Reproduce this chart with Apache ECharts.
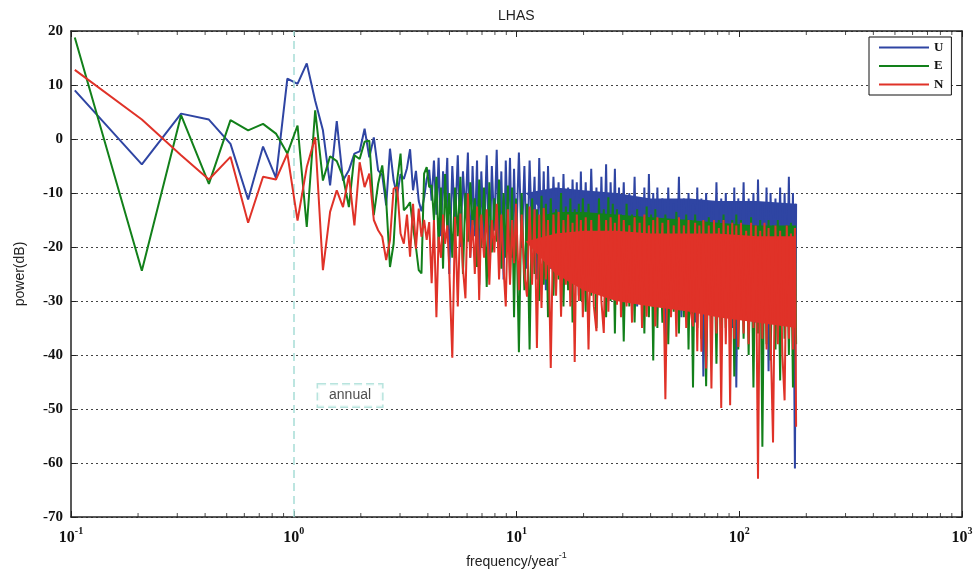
<!DOCTYPE html>
<html>
<head>
<meta charset="utf-8">
<title>LHAS</title>
<script src="https://cdn.jsdelivr.net/npm/echarts@6/dist/echarts.min.js"></script>
<style>
  html, body { margin: 0; padding: 0; background: #fff; }
  #chart { width: 974px; height: 575px; }
</style>
</head>
<body>
<div id="chart"></div>
<script>
// frequency (1/year) of every plotted point
var freq = [
  0.104, 0.208, 0.312, 0.416, 0.52, 0.624, 0.728, 0.832, 0.936, 1.04,
  1.144, 1.248, 1.352, 1.456, 1.56, 1.664, 1.768, 1.872, 1.976, 2.08,
  2.184, 2.288, 2.392, 2.496, 2.6, 2.704, 2.808, 2.912, 3.016, 3.12,
  3.224, 3.328, 3.432, 3.536, 3.64, 3.744, 3.848, 3.952, 4.056, 4.16,
  4.26, 4.37, 4.47, 4.58, 4.68, 4.78, 4.89, 4.99,
  5.15, 5.3, 5.45, 5.6, 5.75, 5.9, 6.05, 6.2, 6.35, 6.5, 6.65, 6.8, 6.95,
  7.15, 7.35, 7.55, 7.75, 7.95, 8.15, 8.35, 8.55, 8.75, 8.95, 9.15, 9.35, 9.55, 9.75, 9.95,
  10.25, 10.55, 10.85, 11.15, 11.45, 11.75, 12.05, 12.35, 12.65, 12.95, 13.25, 13.55, 13.85,
  14.25, 14.65, 15.05, 15.45, 15.85, 16.25, 16.65, 17.05, 17.45, 17.85, 18.25, 18.65, 19.05, 19.45, 19.85,
  20.45, 21.05, 21.65, 22.25, 22.85, 23.45, 24.05, 24.65, 25.25, 25.85, 26.45, 27.05, 27.65, 28.25, 28.85, 29.45,
  30.3, 31.2, 32.1, 33.0, 33.9, 34.8, 35.7, 36.6, 37.5, 38.4, 39.3, 40.2, 41.1, 42.0, 42.9, 43.8,
  45.2, 46.6, 48.0, 49.4, 50.8, 52.2, 53.6, 55.0, 56.4, 57.8, 59.2, 60.6, 62.0, 63.4, 64.8, 66.2, 67.6, 69.0,
  71, 73, 75, 77, 79, 81, 83, 85, 87, 89, 91, 93, 95, 97, 99,
  101.8, 104.6, 107.4, 110.2, 113, 115.8, 118.6, 121.4, 124.2, 127, 129.8, 132.6, 135.4, 138.2,
  141.8, 145.4, 149, 152.6, 156.2, 159.8, 163.4, 167, 170.6, 174.2, 177.8, 180
];

// power (dB), U component
var powerU = [
  9.0, -4.7, 4.7, 3.6, -0.9, -11.2, -1.4, -7.2, 11.2, 10.2,
  14.0, 7.1, 1.6, -8.6, 3.3, -7.7, -5.8, -2.7, -2.3, 1.9,
  -3.4, 0.3, -5.8, -6.7, -12.3, -1.8, -7.7, -10.4, -6.5, -7.4,
  -5.4, -1.9, -9.5, -5.9, -11.5, -13.4, -10.9, -7.4, -5.7, -11.4,
  -4, -14, -3.5, -18, -6, -12, -3.5, -25,
  -5, -16, -3, -20, -6, -14, -2.5, -22, -5, -18, -4, -27, -6,
  -19, -3, -24, -5, -17, -2, -21, -6, -26, -4, -18, -3.5, -22, -5.5, -20,
  -2.5, -20, -5, -24, -4, -19, -7, -26, -3.5, -22, -6, -28, -5,
  -24, -7, -21, -8, -27, -6.5, -23, -9, -26, -7.5, -22, -8, -29, -6, -24,
  -8, -26, -5.5, -24, -9, -28, -7, -25, -4.7, -30, -8, -23, -5.5, -27, -9, -25,
  -8, -29, -10, -26, -7, -31, -11, -27, -9, -30, -6.5, -28, -10, -32, -9, -27,
  -11, -40, -9, -30, -12, -28, -7, -33, -11, -30, -10, -29, -12, -34, -9, -31, -11, -44,
  -10, -31, -12, -30, -8, -29, -11, -33, -10, -30, -12, -35, -9, -46, -11,
  -30, -8, -33, -11, -29, -10, -34, -7.5, -31, -12, -30, -9, -43, -10,
  -32, -11, -29, -9, -34, -10, -31, -7, -33, -10, -61, -12
];

// power (dB), E component
var powerE = [
  18.8, -24.4, 4.4, -8.3, 3.5, 1.6, 2.8, 1.0, -2.7, 2.5,
  -16.3, 5.3, -7.7, -3.2, -4.1, -7.0, -12.6, -3.0, -3.7, -0.5,
  -0.3, -14.1, -8.3, -4.9, -11.4, -23.7, -19.4, -7.7, -2.7, -13.2,
  -12.6, -11.7, -16.3, -20.0, -24.3, -24.9, -6.4, -5.2, -8.9, -8.6,
  -15, -7, -20, -9, -24, -6.5, -17, -10,
  -22, -9, -18, -7, -25, -10, -19, -8, -16, -11, -23.7, -7.5, -20,
  -9, -27.4, -8, -21, -11, -19, -7.5, -24, -10, -22, -8.6, -26, -9, -33, -11,
  -39.5, -10, -28, -12, -39, -11, -25, -13, -30, -10.5, -27, -12, -33,
  -11, -29, -13, -26, -10, -31, -12.5, -28, -11, -34, -13, -27, -12, -30, -11,
  -32, -12, -29, -14, -35, -11, -28, -13, -33, -10.8, -30, -12, -36, -13, -29, -14,
  -37.5, -12, -31, -14, -34, -13, -30, -15, -36, -12.5, -33, -14, -41, -13, -35, -15,
  -34, -14, -38, -15, -32, -13.5, -36, -16, -33, -14, -39, -15, -46, -14, -35, -16, -37, -15,
  -45.8, -14.5, -36, -16, -41.6, -15, -37, -14, -35, -16, -38, -15, -44, -14, -39,
  -15, -37, -16, -40, -14.5, -46, -16, -36, -15, -57, -16.5, -38, -15, -41,
  -16, -39, -15, -44.7, -17, -37, -16, -40, -15.5, -46, -17, -38
];

// power (dB), N component
var powerN = [
  12.8, 3.6, -3.0, -7.5, -3.3, -15.5, -7.0, -7.5, -2.7, -15.1,
  -5.2, 0.3, -24.3, -13.5, -9.5, -12.6, -6.7, -16.0, -4.3, -8.9,
  -6.4, -15.0, -16.9, -18.1, -22.4, -18.7, -9.2, -8.9, -17.5, -19.4,
  -14.0, -21.8, -12.0, -20.3, -12.9, -18.1, -15.0, -18.7, -15.4, -26.7,
  -15, -33, -18.1, -22, -14, -19.4, -16, -24,
  -40.5, -14.4, -31, -13.8, -24, -29.5, -10.1, -22, -15, -25, -12.5, -29.8, -14,
  -22, -13, -27, -15, -21, -12, -26, -14, -24, -31, -13, -27, -15, -23, -12,
  -28, -14, -25, -29.2, -12.5, -27, -13, -38.7, -14, -31.3, -12.8, -26, -15,
  -42.4, -14, -29, -13.5, -32.9, -15, -27, -14, -31, -15.5, -41.3, -14, -30, -15, -33,
  -14.5, -39, -15, -31, -35.6, -14, -30, -35.9, -15, -32, -14.5, -29, -15.5, -30.7, -14, -33,
  -15, -31, -16, -34, -14.5, -30, -15.5, -35, -14, -32.9, -16, -30, -15, -34.7, -14.5, -31,
  -15.5, -48.2, -15, -33, -16, -36.6, -14.5, -31, -16, -35, -15, -32, -34.7, -15.5, -39.3, -16, -39.4, -15,
  -42.5, -16, -46.2, -15, -36, -16.5, -49.8, -15, -38, -16, -49.3, -15.5, -37, -16, -38.5,
  -15.5, -36, -17, -38, -15.5, -35, -16, -62.9, -17, -37, -15.5, -39, -16.5, -36,
  -56.2, -16, -38, -17, -40, -48.4, -16, -37, -17.5, -39, -16.5, -53.3
];

// solid core of the dense high-frequency band
var coreFreq = [11, 15, 20, 28, 40, 60, 80, 120, 180];
var coreU = {
  upper: [-10, -9, -9.5, -10, -11, -11, -11.5, -11.5, -12],
  lower: [-10, -16, -18, -20, -21, -22, -23, -23, -23]
};
var coreE = {
  upper: [-15, -13.5, -13.5, -14, -14.5, -15, -15.5, -16, -16],
  lower: [-15, -22, -25, -26, -27, -28, -28, -29, -29]
};
var coreN = {
  upper: [-19, -17.5, -17, -17, -17.5, -17.5, -17.5, -18, -18],
  lower: [-19, -25, -28, -30, -31, -32, -33, -34, -35]
};

var decades = [0.1, 1, 10, 100];
var minorSteps = [2, 3, 4, 5, 6, 7, 8, 9];
var annualFreq = 1;
var annualLabelAt = [1.79, -47.5];

var colors = { U: '#2f45a3', E: '#12801a', N: '#e03228' };
var layer = { U: 2, E: 4, N: 6 };
var serif = 'Liberation Serif';
var sans = 'Liberation Sans';

function pairs(v) {
  var out = [];
  for (var i = 0; i < v.length && i < freq.length; i++) out.push([freq[i], v[i]]);
  return out;
}

// filled band between the two envelopes, placed with the axes' own scales
function coreSeries(key, core) {
  return {
    name: 'core' + key,
    type: 'custom',
    silent: true,
    z: layer[key],
    data: [[coreFreq[0], core.upper[0]]],
    renderItem: function (params, api) {
      var pts = [], i;
      for (i = 0; i < coreFreq.length; i++) pts.push(api.coord([coreFreq[i], core.upper[i]]));
      for (i = coreFreq.length - 1; i >= 0; i--) pts.push(api.coord([coreFreq[i], core.lower[i]]));
      return { type: 'polygon', shape: { points: pts }, style: { fill: colors[key] } };
    }
  };
}

function lineSeries(key, values) {
  return {
    name: key, type: 'line', data: pairs(values), symbol: 'none', z: layer[key] + 1,
    lineStyle: { color: colors[key], width: 2 }, itemStyle: { color: colors[key] }
  };
}

// log minor ticks (2..9 in each decade), bottom and top edge
var minorBottom = [], minorTop = [];
decades.forEach(function (d) {
  minorSteps.forEach(function (m) {
    var t = +(d * m).toPrecision(3);
    minorBottom.push([t, -70]);
    minorTop.push([t, 20]);
  });
});

var myChart = echarts.init(document.getElementById('chart'));

var option = {
  animation: false,
  backgroundColor: '#fff',
  title: {
    text: 'LHAS',
    left: 498,
    top: 9,
    padding: 0,
    textStyle: { fontFamily: sans, fontWeight: 'normal', fontSize: 14, color: '#222' }
  },
  legend: {
    data: [
      { name: 'U', icon: 'rect' },
      { name: 'E', icon: 'rect' },
      { name: 'N', icon: 'rect' }
    ],
    orient: 'vertical',
    left: 869,
    top: 37,
    z: 20,
    padding: [3, 8, 3, 10],
    itemWidth: 50,
    itemHeight: 2,
    itemGap: 3.5,
    backgroundColor: '#fff',
    borderColor: '#111',
    borderWidth: 1,
    borderRadius: 0,
    textStyle: { fontFamily: serif, fontWeight: 'bold', fontSize: 13, lineHeight: 15, color: '#111' }
  },
  grid: { left: 71, right: 12, top: 31, bottom: 58, containLabel: false, outerBoundsMode: 'none' },
  xAxis: [
    {
      type: 'log',
      logBase: 10,
      min: 0.1,
      max: 1000,
      name: 'frequency/year{s|-1}',
      nameLocation: 'middle',
      nameGap: 34,
      nameTextStyle: {
        fontFamily: sans, fontSize: 14, color: '#222', lineHeight: 22,
        rich: {
          s: { fontFamily: sans, fontSize: 9, color: '#222', lineHeight: 10, verticalAlign: 'top' }
        }
      },
      axisLine: { show: true, onZero: false, lineStyle: { color: '#222', width: 1.5 } },
      axisTick: { show: true, inside: true, length: 6, lineStyle: { color: '#222' } },
      axisLabel: {
        margin: 9,
        formatter: function (v) { return '{b|10}{s|' + Math.round(Math.log10(v)) + '}'; },
        rich: {
          b: { fontFamily: serif, fontWeight: 'bold', fontSize: 16, color: '#111', lineHeight: 20, verticalAlign: 'bottom' },
          s: { fontFamily: serif, fontWeight: 'bold', fontSize: 10, color: '#111', lineHeight: 11, verticalAlign: 'top' }
        }
      },
      splitLine: { show: false }
    },
    {
      type: 'log',
      logBase: 10,
      min: 0.1,
      max: 1000,
      position: 'top',
      axisLine: { show: true, onZero: false, lineStyle: { color: '#222', width: 1.5 } },
      axisTick: { show: true, inside: true, length: 6, lineStyle: { color: '#222' } },
      axisLabel: { show: false },
      splitLine: { show: false }
    }
  ],
  yAxis: [
    {
      type: 'value',
      min: -70,
      max: 20,
      interval: 10,
      name: 'power(dB)',
      nameLocation: 'middle',
      nameGap: 44,
      nameTextStyle: { fontFamily: sans, fontSize: 14, color: '#222' },
      axisLine: { show: true, onZero: false, lineStyle: { color: '#222', width: 1.5 } },
      axisTick: { show: true, inside: true, length: 5, lineStyle: { color: '#222' } },
      axisLabel: { margin: 8, fontFamily: serif, fontWeight: 'bold', fontSize: 15, color: '#111' },
      splitLine: { show: true, lineStyle: { color: '#444', width: 1, type: [2, 3] } }
    },
    {
      type: 'value',
      min: -70,
      max: 20,
      interval: 10,
      position: 'right',
      axisLine: { show: true, onZero: false, lineStyle: { color: '#222', width: 1.5 } },
      axisTick: { show: true, inside: true, length: 5, lineStyle: { color: '#222' } },
      axisLabel: { show: false },
      splitLine: { show: false }
    }
  ],
  series: [
    {
      name: 'annual',
      type: 'scatter',
      symbolSize: 0,
      silent: true,
      z: 1,
      data: [annualLabelAt],
      label: {
        show: true,
        position: 'inside',
        formatter: 'annual',
        fontFamily: sans,
        fontSize: 14,
        color: '#222',
        backgroundColor: '#fff',
        borderColor: '#a6ddd6',
        borderWidth: 1.5,
        borderType: [8, 4],
        padding: [4, 11, 4, 11]
      },
      markLine: {
        silent: true,
        symbol: 'none',
        label: { show: false },
        lineStyle: { color: '#a6ddd6', width: 1.5, type: [8, 5] },
        data: [{ xAxis: annualFreq }]
      }
    },
    coreSeries('U', coreU),
    lineSeries('U', powerU),
    coreSeries('E', coreE),
    lineSeries('E', powerE),
    coreSeries('N', coreN),
    lineSeries('N', powerN),
    {
      name: 'minorBottom', type: 'scatter', silent: true, clip: false, z: 10,
      symbol: 'rect', symbolSize: [1, 4], symbolOffset: [0, -2],
      itemStyle: { color: '#222' }, data: minorBottom
    },
    {
      name: 'minorTop', type: 'scatter', silent: true, clip: false, z: 10,
      symbol: 'rect', symbolSize: [1, 4], symbolOffset: [0, 2],
      itemStyle: { color: '#222' }, data: minorTop
    }
  ]
};

if (powerU.length !== freq.length || powerE.length !== freq.length || powerN.length !== freq.length) {
  option.graphic = [{ type: 'text', left: 5, top: 5, style: { text: 'len ' + freq.length + ' ' + powerU.length + ' ' + powerE.length + ' ' + powerN.length, fill: '#f00' } }];
}

myChart.setOption(option);
</script>
</body>
</html>
